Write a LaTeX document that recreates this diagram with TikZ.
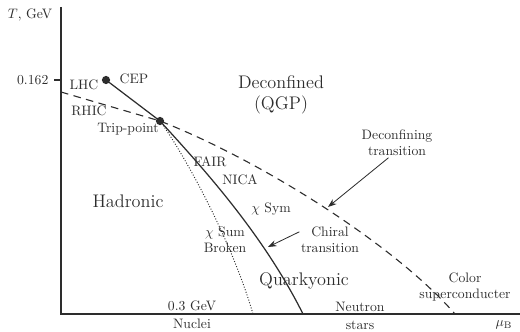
\documentclass[tikz,border=0pt]{standalone}
\usepackage{amsmath,amssymb}
\usetikzlibrary{arrows.meta,positioning}
\definecolor{ink}{RGB}{45,45,45}
\tikzset{
  lbl/.style={text=ink,align=center,inner sep=1pt,font=\normalsize},
  region/.style={text=ink,align=center,inner sep=1pt,font=\fontsize{13.3}{15.5}\selectfont},
  pt/.style={circle,fill=ink,inner sep=0pt,minimum size=6pt},
  axis/.style={draw=ink,line width=0.9pt},
  chiral/.style={draw=ink,line width=0.9pt},
  deconf/.style={draw=ink,line width=0.8pt,dash pattern=on 5.5pt off 4pt},
  sumline/.style={draw=ink,line width=0.7pt,dash pattern=on 0.7pt off 1.3pt},
  arr/.style={-{Stealth[length=2.2mm,width=1.6mm]},draw=ink,line width=0.6pt},
}

\begin{document}
\begin{tikzpicture}[x=0.73pt,y=-0.73pt]
\useasboundingbox (0,0) rectangle (520,332);
% axes
\coordinate (O) at (61,314);
\coordinate (Ttop) at (61,7);
\coordinate (Mend) at (520,314);
\coordinate (tick) at (61,80);
\coordinate (tickl) at (54,80);
\draw[axis] (Ttop) -- (O) -- (Mend);
\draw[axis] (tick) -- (tickl);
\node[lbl] (Tlab) at (30,15) {$T$, GeV};
\node[lbl,anchor=east] (tval) at (50,80) {0.162};
\node[lbl] (mulab) at (504,325) {$\mu_{\mathrm B}$};

% phase boundaries
\coordinate (cep) at (106,80);
\coordinate (trip) at (160,121);
\coordinate (dstart) at (61,92);
\coordinate (dend) at (455,314);
\coordinate (cend) at (303,314);
\coordinate (send) at (253,314);
\draw[deconf] (dstart) -- (trip) .. controls (260,160) and (395,245) .. (dend);
\draw[sumline] (trip) .. controls (180,148) and (230,235) .. (send);
\draw[chiral] (cep) -- (trip) .. controls (200,165) and (262,232) .. (cend);
\node[pt] (cepdot) at (cep) {};
\node[pt] (tripdot) at (trip) {};

% point labels
\node[lbl] (lhc) at (84,85) {LHC};
\node[lbl] (ceplab) at (134,79) {CEP};
\node[lbl] (rhic) at (89,111) {RHIC};
\node[lbl] (triplab) at (128,129) {Trip-point};
\node[lbl] (fair) at (210,162) {FAIR};
\node[lbl] (nica) at (240,180) {NICA};
\node[lbl] (chisym) at (271,209) {$\chi$ Sym};
\node[lbl] (chisum) at (225,240) {$\chi$ Sum\\Broken};

% phases
\node[region] (qgp) at (281,95) {Deconfined\\(QGP)};
\node[region] (hadr) at (128,201) {Hadronic};
\node[region] (quark) at (304,281) {Quarkyonic};
\node[lbl] (csc) at (465,287) {Color\\superconducter};
\node[lbl] (nucl) at (192,315) {0.3 GeV\\[1pt]Nuclei};
\node[lbl] (nstar) at (360,316) {Neutron\\[1.5pt]stars};

% transitions
\node[lbl] (dlab) at (397,143) {Deconfining\\transition};
\node[lbl] (clab) at (330,240) {Chiral\\transition};
\coordinate (dhit) at (328,207);
\coordinate (chit) at (268,247);
\draw[arr] (dlab.240) -- (dhit);
\draw[arr] (clab.165) -- (chit);
\end{tikzpicture}
\end{document}
